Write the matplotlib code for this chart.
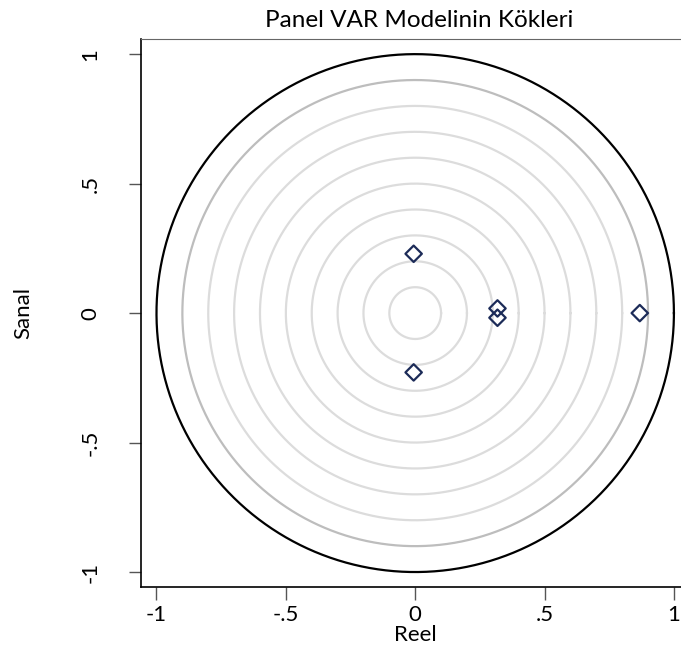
import numpy as np
import matplotlib.pyplot as plt

# roots of the panel VAR (real, imaginary)
reel = [0.868, 0.318, 0.318, -0.006, -0.006]
sanal = [0.0, 0.018, -0.018, 0.229, -0.229]

ring_radii = [0.1, 0.2, 0.3, 0.4, 0.5, 0.6, 0.7, 0.8]
ticks = [-1, -0.5, 0, 0.5, 1]
tick_labels = ['-1', '-.5', '0', '.5', '1']

plt.rcParams['font.family'] = ['Lato', 'DejaVu Sans']

fig = plt.figure(figsize=(6.81, 6.52), dpi=100)
ax = fig.add_axes([0.207, 0.100, 0.8054, 0.840])

t = np.linspace(0, 2 * np.pi, 400)
for r in ring_radii:
    ax.plot(r * np.cos(t), r * np.sin(t), color='#dcdcdc', lw=1.6, zorder=1)
ax.plot(0.9 * np.cos(t), 0.9 * np.sin(t), color='#bdbdbd', lw=1.6, zorder=1)
ax.plot(np.cos(t), np.sin(t), color='black', lw=1.6, zorder=2)

ax.scatter(reel, sanal, marker='D', s=70, facecolors='none',
           edgecolors='#1c2b58', linewidths=1.6, zorder=3)

ax.set_xlim(-1.06, 1.06)
ax.set_ylim(-1.057, 1.058)

ax.set_xticks(ticks)
ax.set_xticklabels(tick_labels)
ax.set_yticks(ticks)
ax.set_yticklabels(tick_labels, rotation=90, va='center')
ax.tick_params(axis='both', length=9, width=1, color='#555555',
               labelsize=16, pad=4)
ax.tick_params(axis='y', pad=20)

ax.spines['right'].set_visible(False)
ax.spines['top'].set_color('#666666')
for s in ['left', 'bottom']:
    ax.spines[s].set_color('black')
    ax.spines[s].set_linewidth(1.2)

ax.set_xlabel('Reel', fontsize=16, labelpad=0)
ax.set_ylabel('Sanal', fontsize=16, labelpad=34)
fig.text(0.615, 0.968, 'Panel VAR Modelinin Kökleri', fontsize=17.5,
         ha='center', va='center')

fig.savefig('out.png', dpi=100)
